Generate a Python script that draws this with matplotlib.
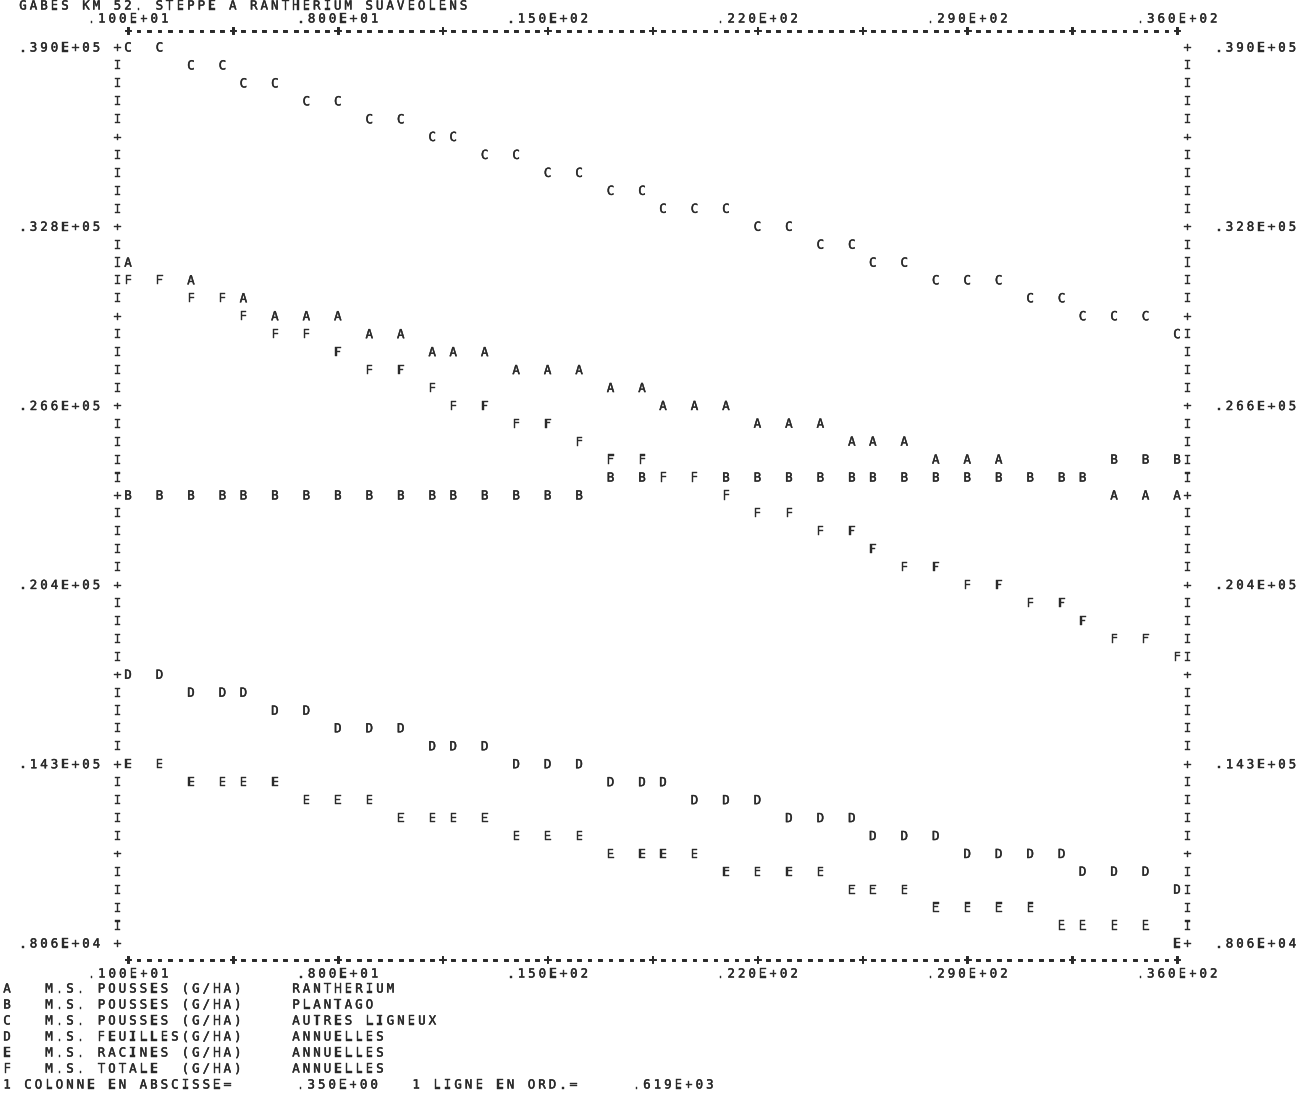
import matplotlib
matplotlib.use("Agg")
import matplotlib.pyplot as plt
import matplotlib.patheffects as pe
from matplotlib.transforms import offset_copy, blended_transform_factory

# abscissa shared by every series
x = [1, 2, 3, 4, 5, 6, 7, 8, 9, 10, 11, 12, 13, 14, 15, 16, 17, 18,
     19, 20, 21, 22, 23, 24, 25, 26, 27, 28, 29, 30, 31, 32, 33, 34, 35, 36]

# dry matter, g/ha (one line = 619)
ms_rantherium = [31570, 30960, 30960, 30340, 30340, 29720, 29720, 29720, 29100,
                 29100, 28480, 28480, 28480, 27860, 27860, 27860, 27240, 27240,
                 26620, 26620, 26620, 26010, 26010, 26010, 25390, 25390, 25390,
                 24770, 24770, 24770, 24150, 24150, 24150, 23530, 23530, 23530]
ms_plantago = [23530, 23530, 23530, 23530, 23530, 23530, 23530, 23530, 23530,
               23530, 23530, 23530, 23530, 23530, 23530, 23530, 24150, 24150,
               24150, 24150, 24150, 24150, 24150, 24150, 24150, 24150, 24150,
               24150, 24150, 24150, 24150, 24150, 24150, 24770, 24770, 24770]
ms_ligneux = [39000, 39000, 38380, 38380, 37760, 37760, 37140, 37140, 36520,
              36520, 35910, 35910, 35290, 35290, 34670, 34670, 34050, 34050,
              33430, 33430, 33430, 32810, 32810, 32190, 32190, 31570, 31570,
              30960, 30960, 30960, 30340, 30340, 29720, 29720, 29720, 29100]
feuilles_ann = [17340, 17340, 16720, 16720, 16720, 16100, 16100, 15490, 15490,
                15490, 14870, 14870, 14870, 14250, 14250, 14250, 13630, 13630,
                13630, 13010, 13010, 13010, 12390, 12390, 12390, 11770, 11770,
                11770, 11150, 11150, 11150, 11150, 10540, 10540, 10540, 9920]
racines_ann = [14250, 14250, 13630, 13630, 13630, 13630, 13010, 13010, 13010,
               12390, 12390, 12390, 12390, 11770, 11770, 11770, 11150, 11150,
               11150, 11150, 10540, 10540, 10540, 10540, 9920, 9920, 9920,
               9300, 9300, 9300, 9300, 8680, 8680, 8680, 8680, 8060]
totale_ann = [30960, 30960, 30340, 30340, 29720, 29100, 29100, 28480, 27860,
              27860, 27240, 26620, 26620, 26010, 26010, 25390, 24770, 24770,
              24150, 24150, 23530, 22910, 22910, 22290, 22290, 21670, 21060,
              21060, 20440, 20440, 19820, 19820, 19200, 18580, 18580, 17960]

codes = ["A", "B", "C", "D", "E", "F"]
series = [ms_rantherium, ms_plantago, ms_ligneux, feuilles_ann, racines_ann, totale_ann]
legend_desc = ["M.S. POUSSES (G/HA)", "M.S. POUSSES (G/HA)", "M.S. POUSSES (G/HA)",
               "M.S. FEUILLES(G/HA)", "M.S. RACINES (G/HA)", "M.S. TOTALE  (G/HA)"]
legend_group = ["RANTHERIUM", "PLANTAGO", "AUTRES LIGNEUX",
                "ANNUELLES", "ANNUELLES", "ANNUELLES"]

xtick_vals = [1, 8, 15, 22, 29, 36]
xtick_text = [".100E+01", ".800E+01", ".150E+02", ".220E+02", ".290E+02", ".360E+02"]
ytick_vals = [39000, 32810, 26620, 20440, 14250, 8060]
ytick_text = [".390E+05", ".328E+05", ".266E+05", ".204E+05", ".143E+05", ".806E+04"]

title = "GABES KM 52. STEPPE A RANTHERIUM SUAVEOLENS"
footer = "1 COLONNE EN ABSCISSE=      .350E+00   1 LIGNE EN ORD.=     .619E+03"

W, H = 1306, 1114
PITCH = 10.49          # printer column width in pixels
COL = 0.35             # abscissa per column
LINE = 618.8           # ordinate per line
INK = "#2a2a2a"
FONT = dict(family="DejaVu Sans Mono", fontsize=9, color=INK,
            path_effects=[pe.withStroke(linewidth=0.3, foreground=INK)])

fig = plt.figure(figsize=(W / 100, H / 100), dpi=100)
fig.patch.set_facecolor("white")
TOP, BOT = 48, 944
ax = fig.add_axes([128 / W, 1 - BOT / H, 1049 / W, (BOT - TOP) / H])
ax.set_xlim(1, 36)
ax.set_ylim(8060, 39000)
ax.axis("off")

fig_px = blended_transform_factory(fig.transFigure, fig.transFigure)
x_data = blended_transform_factory(ax.transData, fig.transFigure)
y_data = blended_transform_factory(fig.transFigure, ax.transData)


def chars(s, xv, yv, base, center=False, **kw):
    # print a string one character per printer column
    start = -(len(s) - 1) / 2 * PITCH if center else 0
    style = dict(FONT, **kw)
    for i, ch in enumerate(s):
        if ch == " ":
            continue
        tr = offset_copy(base, fig=fig, x=start + i * PITCH, y=0, units="dots")
        fig.text(xv, yv, ch, transform=tr, ha="center", va="center", **style)


def snap(v):
    # a line printer can only hit whole columns
    return 1 + COL * round((v - 1) / COL)


# frame: I / + columns and dashed top and bottom lines
left_x, right_x = 1 - COL, 36 + COL
for r in range(51):
    yv = 39000 - r * LINE
    ch = "+" if r % 5 == 0 else "I"
    ax.text(left_x, yv, ch, ha="center", va="center", clip_on=False, zorder=1, **FONT)
    ax.text(right_x, yv, ch, ha="center", va="center", clip_on=False, zorder=1, **FONT)

dash = "".join("+" if c % 10 == 0 else "-" for c in range(101))
for ypx in (31, 960):
    chars(dash, 1, 1 - ypx / H, x_data, fontweight="bold",
          path_effects=[pe.withStroke(linewidth=0.7, foreground=INK)])

# tick labels
for v, t in zip(xtick_vals, xtick_text):
    chars(t, v, 1 - 19 / H, x_data, center=True)
    chars(t, v, 1 - 974 / H, x_data, center=True)
for v, t in zip(ytick_vals, ytick_text):
    chars(t, 23 / W, v, y_data)
    chars(t, 1219 / W, v, y_data)

# the curves: one letter per point, later series overprint earlier ones
for code, vals in zip(codes, series):
    for xi, yi in zip(x, vals):
        ax.text(snap(xi), yi, code, ha="center", va="center", clip_on=False, zorder=3,
                bbox=dict(facecolor="white", edgecolor="none", pad=0.4), **FONT)

chars(title, 23 / W, 1 - 6 / H, fig_px)
for k, (code, desc, grp) in enumerate(zip(codes, legend_desc, legend_group)):
    ypx = 989 + 16 * k
    chars(code, 7 / W, 1 - ypx / H, fig_px)
    chars(desc, 49 / W, 1 - ypx / H, fig_px)
    chars(grp, 296 / W, 1 - ypx / H, fig_px)
chars(footer, 7 / W, 1 - 1085 / H, fig_px)

fig.savefig("out.png", dpi=100, facecolor="white")
